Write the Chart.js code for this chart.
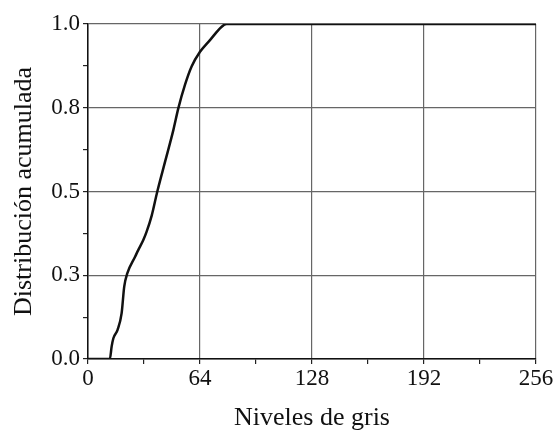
<!DOCTYPE html>
<html>
<head>
<meta charset="utf-8">
<script src="https://cdn.jsdelivr.net/npm/chart.js@4/dist/chart.umd.min.js"></script>
<style>
  html, body { margin: 0; padding: 0; background: #fff; }
  #wrap { width: 557px; height: 434px; }
</style>
</head>
<body>
<div id="wrap"><canvas id="graph"></canvas></div>
<script>
// grey levels and cumulative distribution
const grayLevels = [0, 12.5, 13.5, 14.5, 16.9, 19.2, 20.7, 22.5, 26.9, 28.7, 31.6, 33.5, 36.4, 39.6, 44.2, 48.8, 51.6, 55.4, 59.2, 64, 69.7, 76.4, 79.2, 128, 192, 256];
const cumDist    = [0, 0, 0.037, 0.062, 0.087, 0.136, 0.216, 0.256, 0.305, 0.325, 0.355, 0.38, 0.428, 0.5, 0.592, 0.684, 0.748, 0.818, 0.873, 0.917, 0.952, 0.992, 1.0, 1.0, 1.0, 1.0];

// axis ticks
const xTicks = [0, 64, 128, 192, 256];
const yTickValues = [0, 0.25, 0.5, 0.75, 1.0];
const yTickLabels = ['0.0', '0.3', '0.5', '0.8', '1.0'];

const points = grayLevels.map((g, i) => ({ x: g, y: cumDist[i] }));

const serif = "'Liberation Serif', 'DejaVu Serif', serif";
const gridGray = '#666';

function isMajorY(v) {
  return yTickValues.some(t => Math.abs(t - v) < 1e-6);
}
function isMajorX(v) {
  return xTicks.indexOf(v) > -1;
}

const config = {
  type: 'scatter',
  data: {
    datasets: [{
      data: points,
      showLine: true,
      borderColor: '#111',
      borderWidth: 2.5,
      pointRadius: 0,
      cubicInterpolationMode: 'monotone',
      fill: false
    }]
  },
  options: {
    responsive: true,
    maintainAspectRatio: false,
    animation: false,
    layout: { padding: { top: 24, right: 21, bottom: 0, left: 0 } },
    plugins: { legend: { display: false }, tooltip: { enabled: false } },
    scales: {
      x: {
        type: 'linear',
        min: 0,
        max: 256,
        afterBuildTicks: axis => {
          axis.ticks = [];
          for (let v = 0; v <= 256; v += 32) axis.ticks.push({ value: v });
        },
        afterFit: axis => { axis.height = 75; },
        ticks: {
          autoSkip: false,
          maxRotation: 0,
          padding: 1,
          color: '#111',
          font: { family: serif, size: 23 },
          callback: v => isMajorX(v) ? String(v) : ''
        },
        grid: {
          color: ctx => (ctx.tick && isMajorX(ctx.tick.value)) ? gridGray : 'rgba(0,0,0,0)',
          tickColor: '#222',
          tickLength: 5,
          lineWidth: 1.2
        },
        border: { color: '#111', width: 1.5 },
        title: {
          display: true,
          text: 'Niveles de gris',
          color: '#111',
          font: { family: serif, size: 26 },
          padding: { top: 7, bottom: 0 }
        }
      },
      y: {
        type: 'linear',
        min: 0,
        max: 1,
        afterBuildTicks: axis => {
          axis.ticks = [];
          for (let k = 0; k <= 8; k++) axis.ticks.push({ value: k * 0.125 });
        },
        afterFit: axis => { axis.width = 88; },
        ticks: {
          autoSkip: false,
          padding: 3,
          color: '#111',
          font: { family: serif, size: 23 },
          callback: v => {
            const i = yTickValues.findIndex(t => Math.abs(t - v) < 1e-6);
            return i > -1 ? yTickLabels[i] : '';
          }
        },
        grid: {
          color: ctx => (ctx.tick && isMajorY(ctx.tick.value)) ? gridGray : 'rgba(0,0,0,0)',
          tickColor: '#222',
          tickLength: 5,
          lineWidth: 1.2
        },
        border: { color: '#111', width: 1.5 },
        title: {
          display: true,
          text: 'Distribución acumulada',
          color: '#111',
          font: { family: serif, size: 26 },
          padding: { top: 9, bottom: 0 }
        }
      }
    }
  }
};

const cdfChart = new Chart(document.getElementById('graph'), config);
</script>
</body>
</html>
